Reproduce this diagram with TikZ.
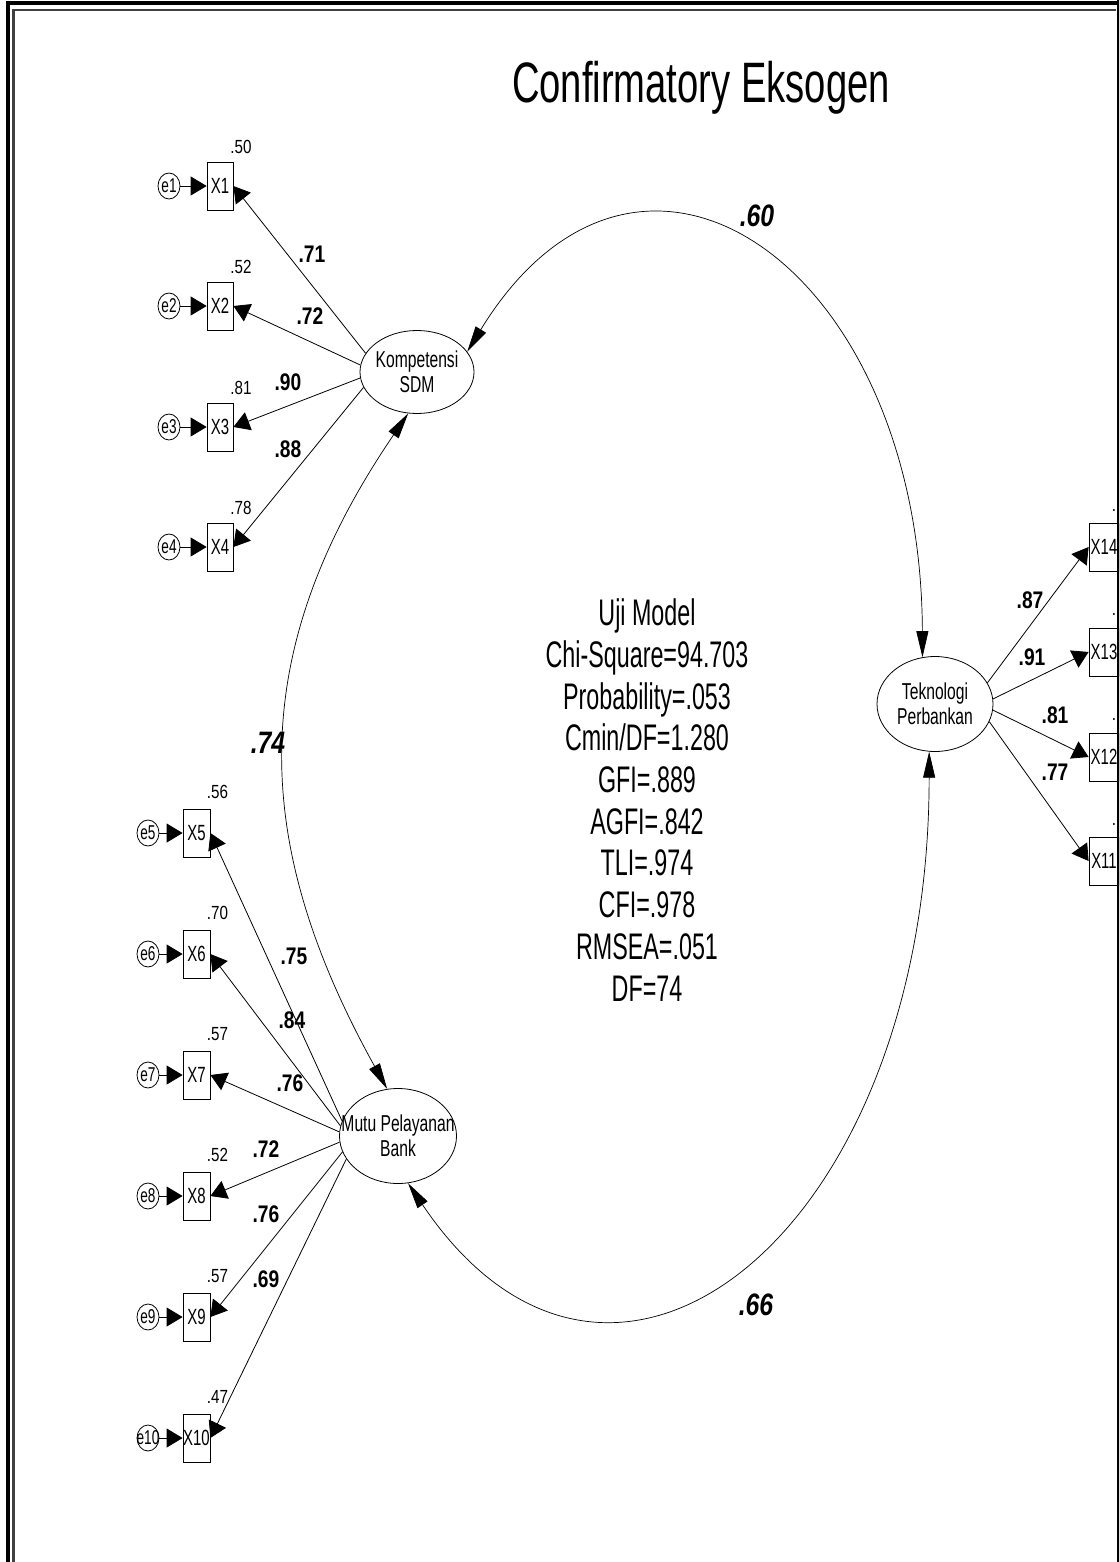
\documentclass[tikz,border=0pt]{standalone}
\usepackage{fontspec}
\setmainfont{Liberation Sans}
\newfontfamily\amosfont{Liberation Sans}[FakeStretch=0.68]
\newfontfamily\statfont{Liberation Sans}[FakeStretch=0.63]
\newfontfamily\titlefont{Liberation Sans}[FakeStretch=0.67]
\newfontfamily\numfont{Liberation Sans}[FakeStretch=0.8]
\usetikzlibrary{arrows.meta,shapes.geometric}

\begin{document}
\begin{tikzpicture}[x=1pt,y=-1pt,
  obs/.style={draw,line width=0.8pt,minimum width=26pt,minimum height=48pt,inner sep=0pt,
    font=\amosfont\fontsize{22}{22}\selectfont},
  lat/.style={draw,ellipse,line width=0.8pt,inner sep=0pt,align=center,
    font=\amosfont\fontsize{23}{25}\selectfont},
  err/.style={draw,ellipse,line width=0.8pt,minimum width=22pt,minimum height=26pt,inner sep=0pt,
    font=\amosfont\fontsize{20}{20}\selectfont},
  res/.style={inner sep=0pt,font=\numfont\fontsize{19}{19}\selectfont},
  ld/.style={inner sep=0pt,font=\numfont\bfseries\fontsize{24}{24}\selectfont},
  cv/.style={inner sep=0pt,font=\numfont\bfseries\itshape\fontsize{31}{31}\selectfont},
  a/.style={-{Triangle[length=16pt,width=19pt]},line width=0.8pt},
  c/.style={{Triangle[length=26pt,width=12pt]}-{Triangle[length=26pt,width=12pt]},line width=0.7pt}
]
\useasboundingbox (0,0) rectangle (1119,1562);
\clip (0,0) rectangle (1119,1562);

\node[anchor=base,font=\titlefont\fontsize{57}{60}\selectfont] (title) at (701,103) {Confirmatory Eksogen};

% latent variables
\node[lat,minimum width=114pt,minimum height=83pt] (K) at (417,372) {\makebox[0pt]{Kompetensi}\\\makebox[0pt]{SDM}};
\node[lat,minimum width=117pt,minimum height=95pt] (M) at (398,1136) {\makebox[0pt]{Mutu Pelayanan}\\\makebox[0pt]{Bank}};
\node[lat,minimum width=116pt,minimum height=95pt] (T) at (935,704) {\makebox[0pt]{Teknologi}\\\makebox[0pt]{Perbankan}};

% Kompetensi SDM indicators
\node[obs] (X1) at (220,186) {X1};
\node[obs] (X2) at (220,306) {X2};
\node[obs] (X3) at (220,427) {X3};
\node[obs] (X4) at (220,547) {X4};
\node[err] (e1) at (169,186) {e1};
\node[err] (e2) at (169,306) {e2};
\node[err] (e3) at (169,427) {e3};
\node[err] (e4) at (169,547) {e4};
\node[res] (r1) at (241,147) {.50};
\node[res] (r2) at (241,267) {.52};
\node[res] (r3) at (241,388) {.81};
\node[res] (r4) at (241,508) {.78};

% Mutu Pelayanan Bank indicators
\node[obs,minimum width=27pt] (X5) at (196.5,833) {X5};
\node[obs,minimum width=27pt] (X6) at (196.5,954) {X6};
\node[obs,minimum width=27pt] (X7) at (196.5,1075) {X7};
\node[obs,minimum width=27pt] (X8) at (196.5,1196) {X8};
\node[obs,minimum width=27pt] (X9) at (196.5,1317) {X9};
\node[obs,minimum width=27pt] (X10) at (196.5,1438) {\makebox[0pt]{X10}};
\node[err] (e5) at (148,833) {e5};
\node[err] (e6) at (148,954) {e6};
\node[err] (e7) at (148,1075) {e7};
\node[err] (e8) at (148,1196) {e8};
\node[err] (e9) at (148,1317) {e9};
\node[err] (e10) at (148,1438) {\makebox[0pt]{e10}};
\node[res] (r5) at (217.5,792) {.56};
\node[res] (r6) at (217.5,913) {.70};
\node[res] (r7) at (217.5,1034) {.57};
\node[res] (r8) at (217.5,1155) {.52};
\node[res] (r9) at (217.5,1276) {.57};
\node[res] (r10) at (217.5,1397) {.47};

% Teknologi Perbankan indicators
\node[obs,minimum width=30pt] (X14) at (1104,547) {X14};
\node[obs,minimum width=30pt] (X13) at (1104,652) {X13};
\node[obs,minimum width=30pt] (X12) at (1104,757) {X12};
\node[obs,minimum width=30pt] (X11) at (1104,861) {X11};
\node[res] (r14) at (1114,510) {.};
\node[res] (r13) at (1114,614) {.};
\node[res] (r12) at (1114,719) {.};
\node[res] (r11) at (1114,824) {.};

% errors
\draw[a] (e1) -- (X1);
\draw[a] (e2) -- (X2);
\draw[a] (e3) -- (X3);
\draw[a] (e4) -- (X4);
\draw[a] (e5) -- (X5);
\draw[a] (e6) -- (X6);
\draw[a] (e7) -- (X7);
\draw[a] (e8) -- (X8);
\draw[a] (e9) -- (X9);
\draw[a] (e10) -- (X10);

% loadings
\draw[a] (K.160) -- (X1.east);
\draw[a] (K.173) -- (X2.east);
\draw[a] (K.186) -- (X3.east);
\draw[a] (K.196) -- (X4.east);
\draw[a] (M.165) -- (X5.east);
\draw[a] (M.170) -- (X6.east);
\draw[a] (M.176) -- (X7.east);
\draw[a] (M.186) -- (X8.east);
\draw[a] (M.196) -- (X9.east);
\draw[a] (M.204) -- (X10.east);
\draw[a] (T.22) -- (X14.west);
\draw[a] (T.5) -- (X13.west);
\draw[a] (T.-6) -- (X12.west);
\draw[a] (T.-18) -- (X11.west);

\node[ld] (l1) at (312,254) {.71};
\node[ld] (l2) at (310,316) {.72};
\node[ld] (l3) at (288,382) {.90};
\node[ld] (l4) at (288,449) {.88};
\node[ld] (l5) at (294,956) {.75};
\node[ld] (l6) at (292,1020) {.84};
\node[ld] (l7) at (290,1083) {.76};
\node[ld] (l8) at (266,1149) {.72};
\node[ld] (l9) at (266,1214) {.76};
\node[ld] (l10) at (266,1279) {.69};
\node[ld] (l14) at (1030,600) {.87};
\node[ld] (l13) at (1032,657) {.91};
\node[ld] (l12) at (1055,715) {.81};
\node[ld] (l11) at (1055,772) {.77};

% covariances
\draw[c] (K.22) .. controls (640,70) and (921,266) .. (T.105);
\draw[c] (K.-102) .. controls (243,656) and (252,845) .. (M.103);
\draw[c] (M.-78) .. controls (612,1486) and (929,1233) .. (T.-97);
\node[cv] (c1) at (757,216) {.60};
\node[cv] (c2) at (268,743) {.74};
\node[cv] (c3) at (756,1305) {.66};

% fit indices
\node[align=center,inner sep=0pt,font=\statfont\fontsize{37}{41.7}\selectfont] (fit) at (647,800)
  {Uji Model\\Chi-Square=94.703\\Probability=.053\\Cmin/DF=1.280\\GFI=.889\\AGFI=.842\\TLI=.974\\CFI=.978\\RMSEA=.051\\DF=74};

% frame
\draw[line width=4pt] (8,1562) -- (8,3.5) -- (1119,3.5);
\draw[line width=2.5pt,black!75] (13.5,1562) -- (13.5,10) -- (1116,10);
\draw[line width=3pt] (1118,0) -- (1118,1562);
\end{tikzpicture}
\end{document}
